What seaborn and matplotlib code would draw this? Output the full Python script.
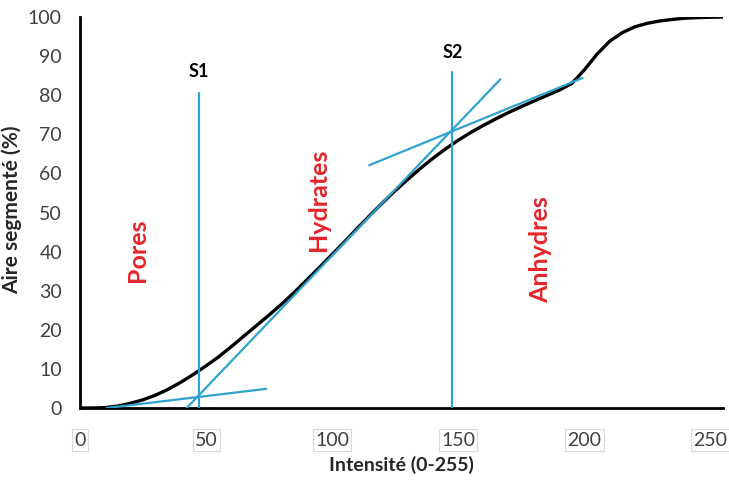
import matplotlib
matplotlib.use("Agg")
import matplotlib.pyplot as plt
import seaborn as sns
import pandas as pd

# ---- data ----
intensity = [0, 5, 10, 15, 20, 25, 30, 35, 40, 45, 50, 55, 60, 65, 70, 75, 80,
             85, 90, 95, 100, 105, 110, 115, 120, 125, 130, 135, 140, 145, 150,
             155, 160, 165, 170, 175, 180, 185, 190, 195, 200, 205, 210, 215,
             220, 225, 230, 235, 240, 245, 250, 255]
area = [0, 0, 0.1, 0.5, 1.2, 2.1, 3.3, 4.8, 6.6, 8.6, 10.8, 13.1, 15.7, 18.4,
        21.1, 23.8, 26.6, 29.6, 32.8, 36.0, 39.3, 42.6, 46.0, 49.3, 52.5, 55.6,
        58.5, 61.3, 63.9, 66.3, 68.5, 70.5, 72.3, 74.0, 75.6, 77.1, 78.5, 79.9,
        81.3, 83.0, 86.5, 90.5, 93.8, 96.0, 97.5, 98.4, 99.0, 99.4, 99.7, 99.85,
        99.95, 100]

# thresholds (vertical lines)
s_names = ["S1", "S2"]
s_x = [47.2, 147.6]
s_top = [80.5, 86.0]
s_label_y = [86.0, 91.0]

# tangent segments (x0, y0) -> (x1, y1)
tan_x0 = [10.6, 42.3, 114.7]
tan_y0 = [0.0, 0.0, 62.1]
tan_x1 = [73.8, 166.7, 199.2]
tan_y1 = [4.9, 84.1, 84.4]

# region labels
region_names = ["Pores", "Hydrates", "Anhydres"]
region_x = [23.0, 94.4, 182.5]
region_y = [40.4, 53.2, 40.4]

xticks = [0, 50, 100, 150, 200, 250]
yticks = [0, 10, 20, 30, 40, 50, 60, 70, 80, 90, 100]

# ---- plotting ----
sns.set_theme(style="white")
plt.rcParams["font.family"] = ["Lato", "DejaVu Sans"]

fig = plt.figure(figsize=(7.29, 4.82), dpi=100)
ax = fig.add_axes([0.1097, 0.1535, 0.8823, 0.8112])

blue = "#2fa3cf"
red = "#e3262b"

curve = pd.DataFrame({"x": intensity, "y": area})
sns.lineplot(data=curve, x="x", y="y", ax=ax, color="black", lw=2.4,
             sort=False, estimator=None, zorder=3,
             solid_joinstyle="round", solid_capstyle="round")

for i in range(len(tan_x0)):
    seg = pd.DataFrame({"x": [tan_x0[i], tan_x1[i]], "y": [tan_y0[i], tan_y1[i]]})
    sns.lineplot(data=seg, x="x", y="y", ax=ax, color=blue, lw=1.6,
                 sort=False, estimator=None, zorder=4)

for i in range(len(s_x)):
    seg = pd.DataFrame({"x": [s_x[i], s_x[i]], "y": [0, s_top[i]]})
    sns.lineplot(data=seg, x="x", y="y", ax=ax, color=blue, lw=1.6,
                 sort=False, estimator=None, zorder=4)
    ax.text(s_x[i], s_label_y[i], s_names[i], ha="center", va="center",
            fontsize=13, fontweight="bold", color="black")

for i in range(len(region_names)):
    ax.text(region_x[i], region_y[i], region_names[i], rotation=90,
            ha="center", va="center", fontsize=18, fontweight="bold", color=red)

ax.set_xlim(0, 255)
ax.set_ylim(0, 100)
ax.set_xticks(xticks)
ax.set_yticks(yticks)
ax.set_xticklabels([str(t) for t in xticks], fontsize=14, color="#404040")
ax.set_yticklabels([str(t) for t in yticks], fontsize=14, color="#404040")
for lab in ax.get_xticklabels():
    lab.set_bbox(dict(facecolor="white", edgecolor="#d9d9d9", pad=1.5, lw=0.8))
ax.tick_params(axis="x", length=0, pad=17)
ax.tick_params(axis="y", length=0, pad=13)

ax.set_xlabel("Intensité (0-255)", fontsize=14, fontweight="bold")
ax.xaxis.set_label_coords(0.5, -0.123)
ax.set_ylabel("Aire segmenté (%)", fontsize=15, fontweight="bold")
ax.yaxis.set_label_coords(-0.09, 0.506)

for side in ["top", "right"]:
    ax.spines[side].set_visible(False)
for side in ["left", "bottom"]:
    ax.spines[side].set_color("black")
    ax.spines[side].set_linewidth(2)
ax.grid(False)

fig.savefig("out.png", dpi=100)
